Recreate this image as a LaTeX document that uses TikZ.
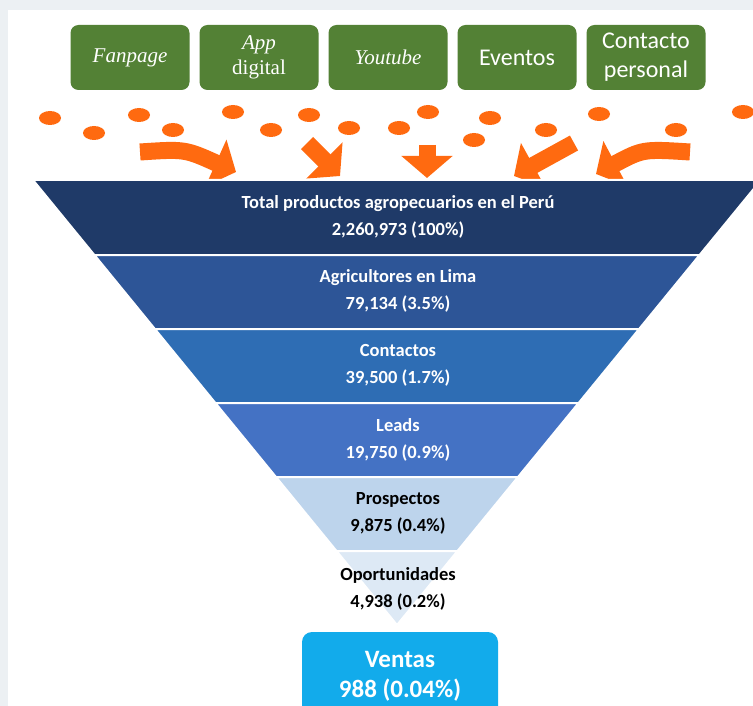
\documentclass[tikz,border=0pt]{standalone}
\usepackage{fontspec}
\setmainfont{Carlito}
\newfontfamily\timesfont{Liberation Serif}
\usetikzlibrary{positioning,arrows.meta,calc}

\definecolor{verde}{HTML}{538135}
\definecolor{naranja}{HTML}{FF6A10}
\definecolor{capaA}{HTML}{1F3A68}
\definecolor{capaB}{HTML}{2D5597}
\definecolor{capaC}{HTML}{2E6DB4}
\definecolor{capaD}{HTML}{4472C4}
\definecolor{capaE}{HTML}{BDD4EC}
\definecolor{capaF}{HTML}{DDE9F5}
\definecolor{celeste}{HTML}{12ABEB}
\definecolor{fondo}{HTML}{ECF0F3}

\begin{document}
\begin{tikzpicture}[
    x=1pt, y=-1pt,
    canal/.style={
        rectangle,
        rounded corners=8pt,
        minimum width=119pt,
        minimum height=65pt,
        fill=verde,
        text=white,
        align=center,
        inner sep=2pt
    },
    serif/.style={
        font=\timesfont\fontsize{21}{25}\selectfont
    },
    sans/.style={
        font=\fontsize{24}{29}\selectfont
    },
    flecha/.style={
        draw=naranja,
        line width=17pt,
        -{Triangle[width=50pt, length=22pt]}
    },
    capa/.style={draw=white, line width=2pt},
    etiqueta/.style={
        align=center,
        font=\bfseries\fontsize{18.5}{27}\selectfont
    },
    ventas/.style={
        rectangle,
        rounded corners=10pt,
        minimum width=196pt,
        minimum height=88pt,
        fill=celeste,
        text=white,
        align=center,
        font=\bfseries\fontsize{25}{30}\selectfont
    }
]

\useasboundingbox (0,0) rectangle (753,706);

% --- Fondo ---
\fill[fondo] (0,0) rectangle (753,706);
\fill[white] (8,10) rectangle (753,706);

% --- Canales ---
\node[canal, serif] (fanpage) at (130,57.5) {\textit{Fanpage}};
\node[canal, serif] (app)     at (259,57.5) {\textit{App}\\digital};
\node[canal, serif] (youtube) at (388,57.5) {\textit{Youtube}};
\node[canal, sans]  (eventos) at (517,57.5) {Eventos};
\node[canal, sans]  (contacto) at (646,57.5) {Contacto\\personal};

% --- Puntos ---
\foreach \px/\py in {50/118, 94/133, 139/115, 173/130, 233/112, 271/130,
    309/115, 349/128, 399/128, 428/112, 474/140, 490/118, 546/130,
    599/114, 676/130, 743/112}
    \fill[naranja] (\px,\py) ellipse [x radius=11, y radius=7];

% --- Flechas hacia el embudo ---
\coordinate (f1a) at (140,152);
\coordinate (f1b) at (236,172);
\coordinate (f2a) at (307,143);
\coordinate (f2b) at (340,176);
\coordinate (f3a) at (427,145);
\coordinate (f3b) at (427,178);
\coordinate (f4a) at (574,143);
\coordinate (f4b) at (514,176);
\coordinate (f5a) at (690,152);
\coordinate (f5b) at (596,174);

\draw[flecha] (f1a) .. controls (185,149) .. (f1b);
\draw[flecha] (f2a) -- (f2b);
\draw[flecha] (f3a) -- (f3b);
\draw[flecha] (f4a) -- (f4b);
\draw[flecha] (f5a) .. controls (643,149) .. (f5b);

% --- Embudo ---
\filldraw[capa, fill=capaA] (33,180) -- (761,180) -- (699.6,255) -- (94.4,255) -- cycle;
\filldraw[capa, fill=capaB] (94.4,255) -- (699.6,255) -- (639.1,329) -- (154.9,329) -- cycle;
\filldraw[capa, fill=capaC] (154.9,329) -- (639.1,329) -- (578.6,403) -- (215.4,403) -- cycle;
\filldraw[capa, fill=capaD] (215.4,403) -- (578.6,403) -- (518,477) -- (276,477) -- cycle;
\filldraw[capa, fill=capaE] (276,477) -- (518,477) -- (457.5,551) -- (336.5,551) -- cycle;
\filldraw[capa, fill=capaF] (336.5,551) -- (457.5,551) -- (397,625) -- cycle;

\node[etiqueta, text=white] (total) at (398,216.5)
    {Total productos agropecuarios en el Perú\\2,260,973 (100\%)};
\node[etiqueta, text=white] (agricultores) at (398,290.5)
    {Agricultores en Lima\\79,134 (3.5\%)};
\node[etiqueta, text=white] (contactos) at (398,365)
    {Contactos\\39,500 (1.7\%)};
\node[etiqueta, text=white] (leads) at (398,439.5)
    {Leads\\19,750 (0.9\%)};
\node[etiqueta] (prospectos) at (398,513.5)
    {Prospectos\\9,875 (0.4\%)};
\node[etiqueta] (oportunidades) at (398,588.5)
    {Oportunidades\\4,938 (0.2\%)};

% --- Ventas ---
\node[ventas] (venta) at (400,676) {Ventas\\988 (0.04\%)};

\end{tikzpicture}
\end{document}
